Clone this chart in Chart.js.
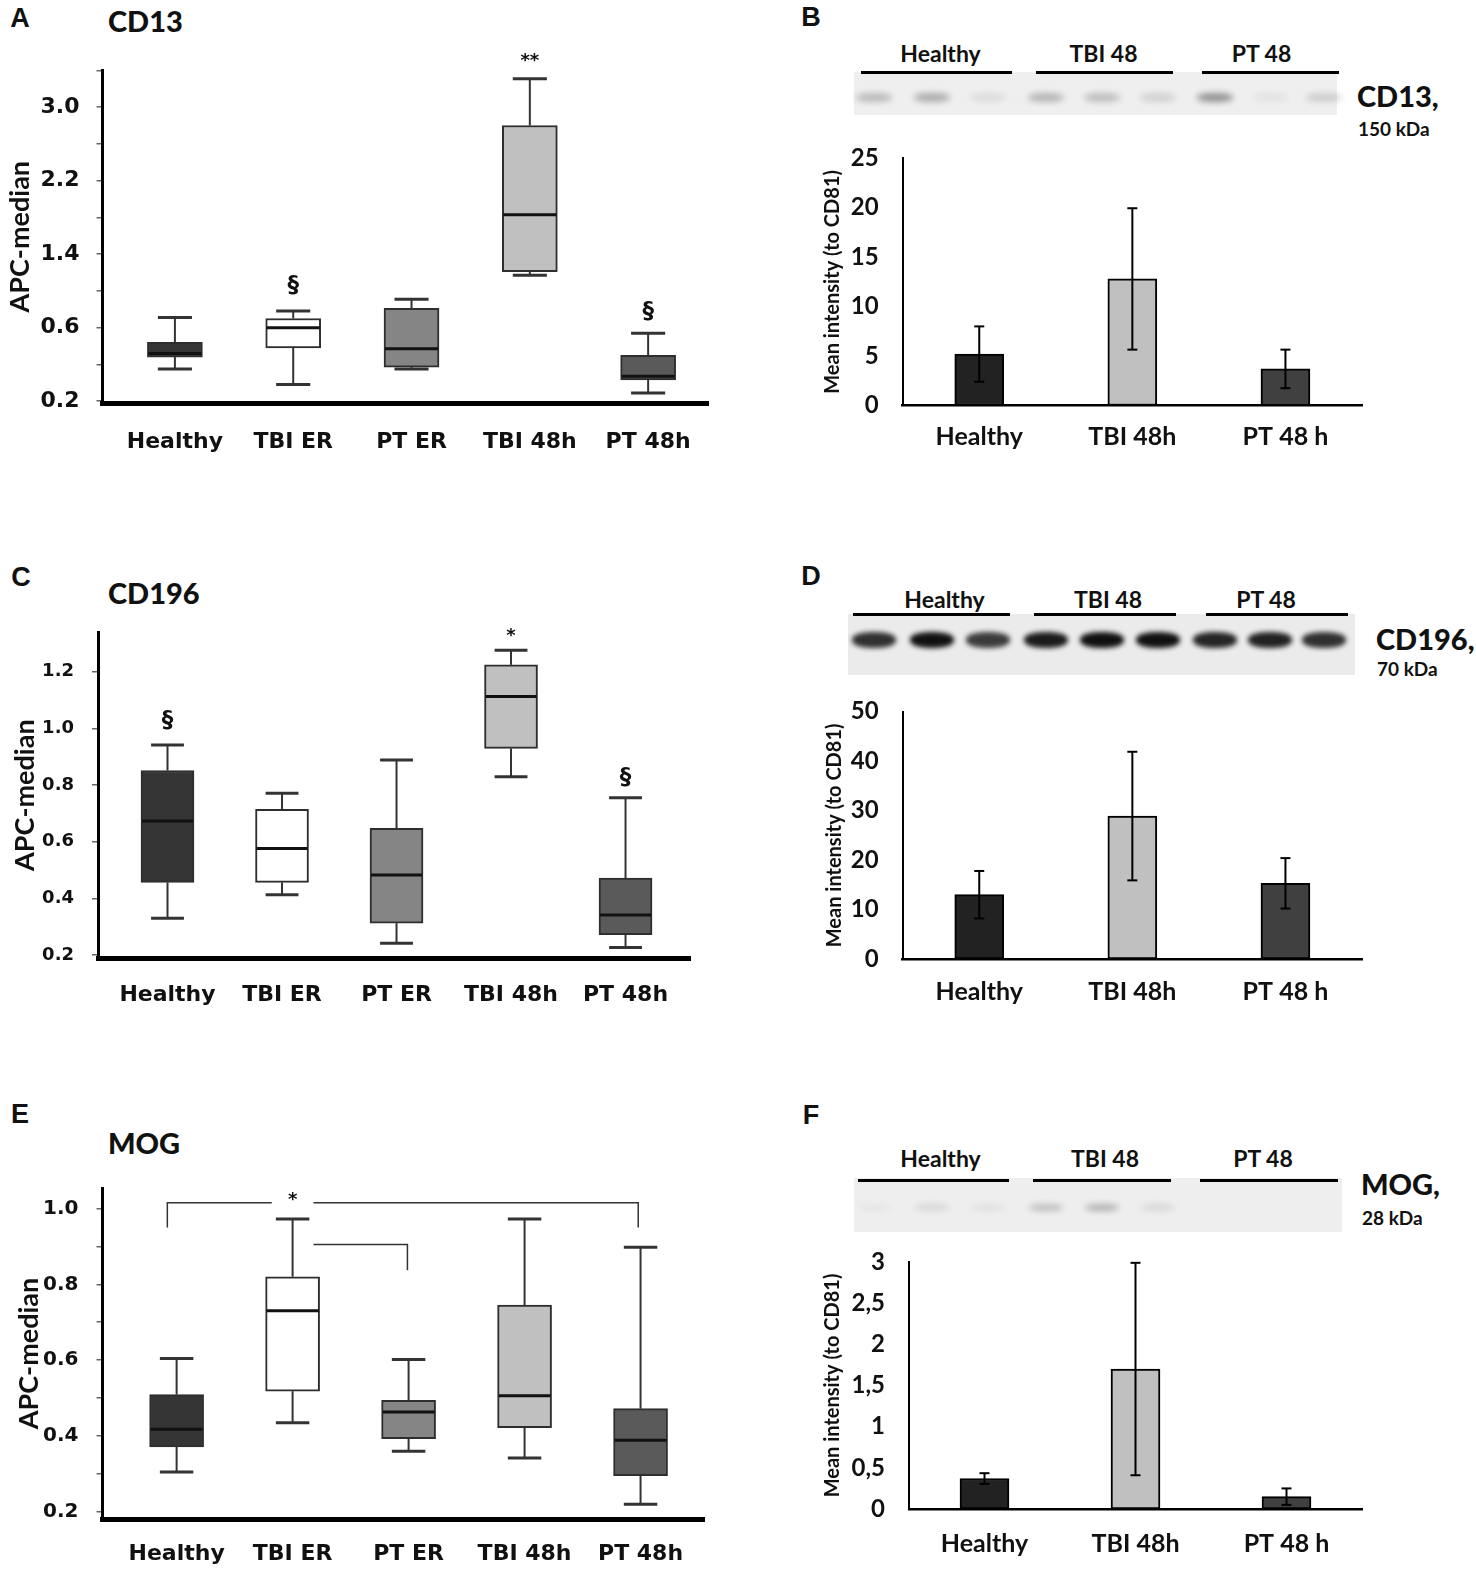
<!DOCTYPE html>
<html>
<head>
<meta charset="utf-8">
<script src="https://cdn.jsdelivr.net/npm/chart.js@4.4.1/dist/chart.umd.min.js"></script>
<style>
  body { margin: 0; background: #fff; }
  #page { position: relative; width: 1476px; height: 1572px; overflow: hidden; font-family: Lato, sans-serif; color: #111; }
  .abs { position: absolute; }
  .mid { transform: translate(-50%, -50%); white-space: nowrap; }
  .left { transform: translateY(-50%); white-space: nowrap; }
  .letter { font-family: "Liberation Sans", Arial, sans-serif; font-weight: bold; font-size: 27px; }
  .title { font-weight: 900; font-size: 29px; }
  .lane { font-weight: bold; font-size: 23px; }
  .prot { font-weight: 900; font-size: 29px; }
  .kda { font-weight: bold; font-size: 19px; }
</style>
</head>
<body>
<div id="page"></div>
<script>
// ---------- data ----------
const boxGroups = ['Healthy', 'TBI ER', 'PT ER', 'TBI 48h', 'PT 48h'];
const boxColors = ['#353535', '#ffffff', '#858585', '#c0c0c0', '#5a5a5a'];

// A - CD13 (the lowest tick is printed as "0.2" in the source figure)
const cd13Min    = [0.15, -0.02, 0.15, 1.17, -0.11];
const cd13Q1     = [0.28, 0.38, 0.17, 1.21, 0.03];
const cd13Median = [0.32, 0.60, 0.37, 1.83, 0.07];
const cd13Q3     = [0.44, 0.70, 0.81, 2.80, 0.30];
const cd13Max    = [0.71, 0.78, 0.91, 3.31, 0.54];
const cd13Marks  = ['', '§', '', '**', '§'];
const cd13MarkAt = [null, 1.05, null, 3.50, 0.77];
const cd13Ticks  = [-0.2, 0.2, 0.6, 1.0, 1.4, 1.8, 2.2, 2.6, 3.0, 3.4];
const cd13TickLabels = ['0.2', '', '0.6', '', '1.4', '', '2.2', '', '3.0', ''];

// C - CD196
const cd196Min    = [0.329, 0.412, 0.241, 0.829, 0.226];
const cd196Q1     = [0.456, 0.456, 0.312, 0.929, 0.271];
const cd196Median = [0.673, 0.576, 0.482, 1.112, 0.341];
const cd196Q3     = [0.851, 0.714, 0.647, 1.224, 0.471];
const cd196Max    = [0.941, 0.771, 0.888, 1.276, 0.755];
const cd196Marks  = ['§', '', '', '*', '§'];
const cd196MarkAt = [1.024, null, null, 1.324, 0.824];
const cd196Ticks  = [0.2, 0.4, 0.6, 0.8, 1.0, 1.2];
const cd196TickLabels = ['0.2', '0.4', '0.6', '0.8', '1.0', '1.2'];

// E - MOG
const mogMin    = [0.305, 0.435, 0.360, 0.342, 0.220];
const mogQ1     = [0.371, 0.518, 0.393, 0.422, 0.295];
const mogMedian = [0.418, 0.730, 0.463, 0.506, 0.389];
const mogQ3     = [0.509, 0.820, 0.494, 0.745, 0.472];
const mogMax    = [0.604, 0.972, 0.602, 0.972, 0.898];
const mogMarks  = ['', '*', '', '', ''];
const mogMarkAt = [null, 1.022, null, null, null];
const mogTicks  = [0.2, 0.3, 0.4, 0.5, 0.6, 0.7, 0.8, 0.9, 1.0];
const mogTickLabels = ['0.2', '', '0.4', '', '0.6', '', '0.8', '', '1.0'];
const mogBrackets = [
  [[-0.08, 0.95], [-0.08, 1.015], [0.82, 1.015]],
  [[1.18, 1.015], [3.98, 1.015], [3.98, 0.95]],
  [[1.18, 0.905], [1.99, 0.905], [1.99, 0.837]]
];

// B, D, F - western blot quantification
const blotGroups = ['Healthy', 'TBI 48h', 'PT 48 h'];
const barColors = ['#222222', '#c0c0c0', '#404040'];
const cd13Mean = [5.2, 12.8, 3.7];
const cd13Err  = [2.8, 7.15, 1.95];
const cd13BarTicks = [0, 5, 10, 15, 20, 25];
const cd13BarLabels = ['0', '5', '10', '15', '20', '25'];
const cd196Mean = [13.0, 28.9, 15.3];
const cd196Err  = [4.8, 13.0, 5.1];
const cd196BarTicks = [0, 10, 20, 30, 40, 50];
const cd196BarLabels = ['0', '10', '20', '30', '40', '50'];
const mogMean = [0.37, 1.70, 0.15];
const mogErr  = [0.065, 1.29, 0.10];
const mogBarTicks = [0, 0.5, 1, 1.5, 2, 2.5, 3];
const mogBarLabels = ['0', '0,5', '1', '1,5', '2', '2,5', '3'];

// blot lanes (group labels and band strength per lane)
const laneGroups = ['Healthy', 'TBI 48', 'PT 48'];
const cd13Bands  = [0.24, 0.30, 0.08, 0.26, 0.22, 0.13, 0.42, 0.05, 0.15];
const cd196Bands = [0.85, 1.0, 0.8, 0.95, 1.0, 1.0, 0.9, 0.92, 0.85];
const mogBands   = [0.03, 0.10, 0.06, 0.22, 0.28, 0.10, 0, 0, 0];

// ---------- page helpers ----------
const page = document.getElementById('page');
function put(cls, text, x, y, extra) {
  const d = document.createElement('div');
  d.className = 'abs ' + cls;
  d.textContent = text;
  d.style.left = x + 'px';
  d.style.top = y + 'px';
  if (extra) Object.assign(d.style, extra);
  page.appendChild(d);
  return d;
}
function box(x, y, w, h, style) {
  const d = document.createElement('div');
  d.className = 'abs';
  Object.assign(d.style, { left: x + 'px', top: y + 'px', width: w + 'px', height: h + 'px' }, style);
  page.appendChild(d);
  return d;
}
function canvasAt(f) {
  const holder = box(f.left, f.top, f.width, f.height, {});
  const c = document.createElement('canvas');
  holder.appendChild(c);
  return c;
}
function line(ctx, pts) {
  ctx.beginPath();
  pts.forEach((p, i) => i ? ctx.lineTo(p[0], p[1]) : ctx.moveTo(p[0], p[1]));
  ctx.stroke();
}

// ---------- plugins ----------
const boxParts = {
  id: 'boxParts',
  beforeDatasetsDraw(chart) {
    const ds = chart.data.datasets[0];
    if (!ds.whiskerMin) return;
    const { ctx, scales: { y } } = chart;
    const bars = chart.getDatasetMeta(0).data;
    ctx.save();
    ctx.strokeStyle = '#333';
    bars.forEach((bar, i) => {
      const cap = bar.width * 0.31;
      const top = y.getPixelForValue(ds.whiskerMax[i]);
      const low = y.getPixelForValue(ds.whiskerMin[i]);
      ctx.lineWidth = 2;
      line(ctx, [[bar.x, top], [bar.x, y.getPixelForValue(ds.data[i].y[1])]]);
      line(ctx, [[bar.x, low], [bar.x, y.getPixelForValue(ds.data[i].y[0])]]);
      ctx.lineWidth = 3;
      line(ctx, [[bar.x - cap, top], [bar.x + cap, top]]);
      line(ctx, [[bar.x - cap, low], [bar.x + cap, low]]);
    });
    ctx.restore();
  },
  afterDatasetsDraw(chart) {
    const ds = chart.data.datasets[0];
    if (!ds.median) return;
    const { ctx, scales: { x, y } } = chart;
    const bars = chart.getDatasetMeta(0).data;
    ctx.save();
    ctx.strokeStyle = '#111';
    ctx.lineWidth = 3;
    bars.forEach((bar, i) => {
      const m = y.getPixelForValue(ds.median[i]);
      line(ctx, [[bar.x - bar.width / 2 + 1, m], [bar.x + bar.width / 2 - 1, m]]);
    });
    if (ds.brackets) {
      ctx.strokeStyle = '#333';
      ctx.lineWidth = 1.5;
      ds.brackets.forEach(seg => line(ctx, seg.map(p => [x.getPixelForValue(p[0]), y.getPixelForValue(p[1])])));
    }
    ctx.fillStyle = '#111';
    ctx.textAlign = 'center';
    ctx.textBaseline = 'middle';
    ds.marks.forEach((t, i) => {
      if (!t) return;
      ctx.font = 'bold ' + (t === '§' ? 23 : 18) + 'px "DejaVu Sans"';
      ctx.fillText(t, x.getPixelForValue(i), y.getPixelForValue(ds.markAt[i]));
    });
    ctx.restore();
  }
};

const errorBars = {
  id: 'errorBars',
  afterDatasetsDraw(chart) {
    const ds = chart.data.datasets[0];
    if (!ds.errors) return;
    const { ctx, scales: { y } } = chart;
    ctx.save();
    ctx.strokeStyle = '#000';
    ctx.lineWidth = 2;
    chart.getDatasetMeta(0).data.forEach((bar, i) => {
      const hi = y.getPixelForValue(ds.data[i] + ds.errors[i]);
      const lo = y.getPixelForValue(ds.data[i] - ds.errors[i]);
      line(ctx, [[bar.x, hi], [bar.x, lo]]);
      line(ctx, [[bar.x - 5, hi], [bar.x + 5, hi]]);
      line(ctx, [[bar.x - 5, lo], [bar.x + 5, lo]]);
    });
    ctx.restore();
  }
};

Chart.register(boxParts, errorBars);
Chart.defaults.animation = false;
Chart.defaults.color = '#111';
Chart.defaults.font.family = 'Lato, sans-serif';

// ---------- chart builders ----------
function boxChart(f, d) {
  new Chart(canvasAt(f), {
    type: 'bar',
    data: {
      datasets: [{
        data: d.q1.map((v, i) => ({ x: i, y: [v, d.q3[i]] })),
        backgroundColor: boxColors,
        borderColor: '#2e2e2e',
        borderWidth: 2,
        borderSkipped: false,
        barThickness: f.boxW,
        whiskerMin: d.min, whiskerMax: d.max, median: d.median,
        marks: d.marks, markAt: d.markAt, brackets: d.brackets
      }]
    },
    options: {
      responsive: true,
      maintainAspectRatio: false,
      layout: { padding: { left: 0, right: f.left + f.width - f.plot[2], top: f.plot[1] - f.top, bottom: 0 } },
      plugins: { legend: { display: false }, tooltip: { enabled: false } },
      scales: {
        x: {
          type: 'linear', min: f.xMin, max: f.xMax, offset: false,
          afterBuildTicks: s => { s.ticks = boxGroups.map((_, i) => ({ value: i })); },
          afterFit: s => { s.height = f.top + f.height - f.plot[3]; },
          grid: { display: false, drawTicks: false },
          border: { display: true, width: 5, color: '#000' },
          ticks: {
            autoSkip: false, maxRotation: 0, padding: f.xPad,
            font: { family: '"DejaVu Sans"', weight: 'bold', size: 22, lineHeight: 1.2 },
            callback: v => boxGroups[v]
          }
        },
        y: {
          min: f.yMin, max: f.yMax,
          afterBuildTicks: s => { s.ticks = d.ticks.map(v => ({ value: v })); },
          afterFit: s => { s.width = f.plot[0] - f.left; },
          grid: { display: true, drawOnChartArea: false, drawTicks: true, tickLength: 6, color: '#666', lineWidth: 1.5 },
          border: { display: true, width: 3, color: '#000' },
          ticks: {
            padding: f.yPad,
            font: { family: '"DejaVu Sans"', weight: 'bold', size: f.tickSize },
            callback: (v, i) => d.tickLabels[i]
          },
          title: {
            display: true, text: 'APC-median', padding: { top: f.titleX - 16.2, bottom: 0 },
            font: { weight: 'bold', size: 27, lineHeight: 1.2 }
          }
        }
      }
    }
  });
}

function barChart(f, d) {
  new Chart(canvasAt(f), {
    type: 'bar',
    data: {
      labels: blotGroups,
      datasets: [{
        data: d.mean,
        errors: d.err,
        backgroundColor: barColors,
        borderColor: '#000',
        borderWidth: 2,
        borderSkipped: false,
        barThickness: 49
      }]
    },
    options: {
      responsive: true,
      maintainAspectRatio: false,
      layout: { padding: { left: 0, right: f.left + f.width - f.plot[2], top: f.plot[1] - f.top, bottom: 0 } },
      plugins: { legend: { display: false }, tooltip: { enabled: false } },
      scales: {
        x: {
          afterFit: s => { s.height = f.top + f.height - f.plot[3]; },
          grid: { display: false, drawTicks: false },
          border: { display: true, width: 2.5, color: '#000' },
          ticks: { padding: f.xPad, font: { weight: 'bold', size: 25, lineHeight: 1.2 } }
        },
        y: {
          min: 0, max: d.ticks[d.ticks.length - 1],
          afterBuildTicks: s => { s.ticks = d.ticks.map(v => ({ value: v })); },
          afterFit: s => { s.width = f.plot[0] - f.left; },
          grid: { display: false, drawTicks: false },
          border: { display: true, width: 2, color: '#000' },
          ticks: { padding: 24, font: { weight: 'bold', size: 24 }, callback: (v, i) => d.labels[i] },
          title: {
            display: true, text: 'Mean intensity (to CD81)', padding: { top: f.titleX - f.left - 12, bottom: 0 },
            font: { weight: 'bold', size: 20, lineHeight: 1.2 }
          }
        }
      }
    }
  });
}

function blot(b, bands) {
  box(b.strip[0], b.strip[1], b.strip[2], b.strip[3], { background: b.bg });
  bands.forEach((a, i) => {
    if (!a) return;
    box(b.lanes[i] - b.bandW / 2, b.bandY - b.bandH / 2, b.bandW, b.bandH,
      { background: '#101010', opacity: a, borderRadius: '45%', filter: 'blur(' + b.blur + 'px)' });
  });
  laneGroups.forEach((g, i) => {
    const [x1, x2] = b.bars[i];
    box(x1, b.barY - 1.5, x2 - x1, 3, { background: '#000' });
    put('lane mid', g, (x1 + x2) / 2 + b.labelShift[i], b.labelY);
  });
  put('prot left', b.name, b.nameX, b.nameY);
  put('kda left', b.kda, b.nameX + 1, b.kdaY);
}

// ---------- panels ----------
put('letter mid', 'A', 20, 18);
put('letter mid', 'B', 811, 17);
put('letter mid', 'C', 21, 577);
put('letter mid', 'D', 811, 576);
put('letter mid', 'E', 20, 1114);
put('letter mid', 'F', 811, 1115);
put('title left', 'CD13', 108, 20);
put('title left', 'CD196', 108, 592);
put('title left', 'MOG', 108, 1142);

const laneX = [874, 932, 988, 1046, 1102, 1158, 1215, 1270, 1324];
blot({ strip: [854, 72, 483, 43], bg: '#efefef', lanes: laneX, bandY: 97, bandW: 36, bandH: 9, blur: 3,
  bars: [[861, 1012], [1036, 1173], [1202, 1339]], barY: 72, labelY: 53, labelShift: [4, -1, -9],
  name: 'CD13,', nameX: 1357, nameY: 95, kda: '150 kDa', kdaY: 128 }, cd13Bands);
blot({ strip: [848, 614, 507, 61], bg: '#ebebeb', lanes: laneX, bandY: 640, bandW: 44, bandH: 16, blur: 2.5,
  bars: [[853, 1010], [1034, 1176], [1206, 1348]], barY: 614, labelY: 599, labelShift: [13, 3, -11],
  name: 'CD196,', nameX: 1376, nameY: 638, kda: '70 kDa', kdaY: 668 }, cd196Bands);
blot({ strip: [854, 1178, 488, 54], bg: '#eeeeee', lanes: laneX, bandY: 1207, bandW: 34, bandH: 7, blur: 3,
  bars: [[858, 1009], [1033, 1171], [1200, 1338]], barY: 1180, labelY: 1158, labelShift: [7, 3, -6],
  name: 'MOG,', nameX: 1361, nameY: 1183, kda: '28 kDa', kdaY: 1217 }, mogBands);

boxChart(
  { left: 0, top: 30, width: 720, height: 450, plot: [102.5, 70.4, 708, 403], xMin: -0.612, xMax: 4.506,
    yMin: -0.22, yMax: 3.4, boxW: 55, xPad: 26, yPad: 17, tickSize: 22, titleX: 20 },
  { min: cd13Min, q1: cd13Q1, median: cd13Median, q3: cd13Q3, max: cd13Max,
    marks: cd13Marks, markAt: cd13MarkAt, ticks: cd13Ticks, tickLabels: cd13TickLabels });

boxChart(
  { left: 0, top: 580, width: 720, height: 440, plot: [98, 632, 690, 958.3], xMin: -0.607, xMax: 4.563,
    yMin: 0.188, yMax: 1.34, boxW: 53, xPad: 24, yPad: 18, tickSize: 18, titleX: 25.5 },
  { min: cd196Min, q1: cd196Q1, median: cd196Median, q3: cd196Q3, max: cd196Max,
    marks: cd196Marks, markAt: cd196MarkAt, ticks: cd196Ticks, tickLabels: cd196TickLabels });

boxChart(
  { left: 0, top: 1140, width: 720, height: 432, plot: [102.5, 1188, 704, 1519], xMin: -0.639, xMax: 4.547,
    yMin: 0.181, yMax: 1.054, boxW: 54, xPad: 22, yPad: 18, tickSize: 20, titleX: 29 },
  { min: mogMin, q1: mogQ1, median: mogMedian, q3: mogQ3, max: mogMax,
    marks: mogMarks, markAt: mogMarkAt, ticks: mogTicks, tickLabels: mogTickLabels, brackets: mogBrackets });

barChart({ left: 800, top: 110, width: 600, height: 360, plot: [902.7, 158.3, 1362, 405.5], xPad: 16, titleX: 833 },
  { mean: cd13Mean, err: cd13Err, ticks: cd13BarTicks, labels: cd13BarLabels });
barChart({ left: 800, top: 660, width: 600, height: 360, plot: [902.7, 711.7, 1362, 959], xPad: 18, titleX: 834.5 },
  { mean: cd196Mean, err: cd196Err, ticks: cd196BarTicks, labels: cd196BarLabels });
barChart({ left: 800, top: 1210, width: 600, height: 362, plot: [909, 1262, 1362, 1509], xPad: 20, titleX: 832.5 },
  { mean: mogMean, err: mogErr, ticks: mogBarTicks, labels: mogBarLabels });
</script>
</body>
</html>
